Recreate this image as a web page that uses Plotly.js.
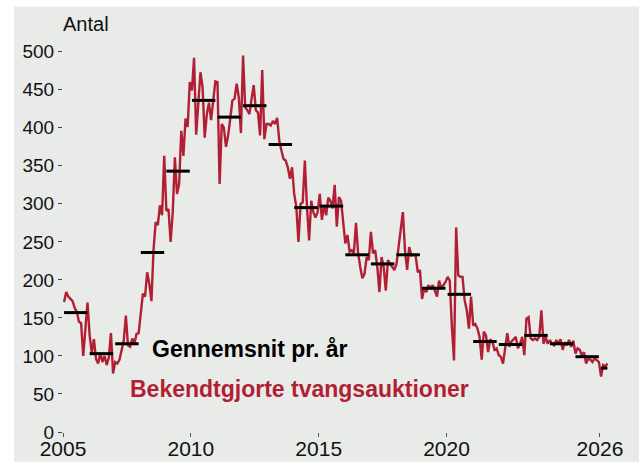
<!DOCTYPE html>
<html>
<head>
<meta charset="utf-8">
<script src="https://cdn.plot.ly/plotly-3.0.1.min.js"></script>
<style>
  html, body { margin: 0; padding: 0; background: #ffffff; }
  #chart { width: 639px; height: 462px; }
</style>
</head>
<body>
<div id="chart"></div>
<script>
// Monthly number of announced forced sales (Bekendtgjorte tvangsauktioner), Jan 2005 onwards
const startYear = 2005;
const tvangsauktioner = [
  171, 184, 178, 175, 172, 163, 158, 145, 143, 100, 130, 170,   // 2005
  127, 104, 122, 96, 90, 104, 92, 100, 88, 98, 130, 77,         // 2006
  92, 90, 95, 108, 120, 153, 114, 112, 123, 116, 129, 130,      // 2007
  160, 182, 178, 210, 195, 172, 240, 276, 272, 298, 285, 363,   // 2008
  291, 293, 250, 289, 361, 313, 326, 396, 363, 412, 401, 460,   // 2009
  449, 492, 391, 430, 473, 453, 387, 418, 433, 410, 433, 461,   // 2010
  460, 326, 405, 400, 375, 390, 412, 436, 438, 458, 440, 393,   // 2011
  495, 427, 423, 418, 438, 456, 423, 420, 390, 476, 385, 405,   // 2012
  405, 403, 409, 405, 413, 383, 370, 359, 357, 348, 333, 348,   // 2013
  313, 296, 250, 300, 302, 357, 296, 252, 304, 289, 282, 289,   // 2014
  313, 279, 298, 285, 308, 304, 294, 325, 270, 309, 304, 278,   // 2015
  248, 259, 237, 239, 235, 275, 235, 217, 202, 208, 230, 226,   // 2016
  263, 235, 239, 217, 184, 230, 217, 186, 226, 221, 217, 213,   // 2017
  221, 243, 261, 289, 239, 213, 243, 232, 233, 232, 210, 213,   // 2018
  175, 189, 184, 193, 189, 193, 186, 178, 199, 189, 193, 197,   // 2019
  204, 199, 138, 94, 269, 206, 204, 204, 173, 160, 136, 178,    // 2020
  140, 142, 136, 125, 95, 132, 127, 105, 122, 119, 108, 110,    // 2021
  101, 99, 90, 112, 130, 112, 119, 122, 125, 110, 116, 125,     // 2022
  101, 149, 151, 123, 121, 123, 121, 125, 160, 116, 125, 116,   // 2023
  121, 116, 114, 121, 116, 122, 108, 118, 114, 121, 112, 120,   // 2024
  103, 110, 108, 101, 105, 90, 97, 95, 92, 97, 94, 92,          // 2025
  73, 88, 86, 90                                                // 2026
];

// Yearly averages (Gennemsnit pr. år)
const aar = [2005, 2006, 2007, 2008, 2009, 2010, 2011, 2012, 2013, 2014, 2015,
             2016, 2017, 2018, 2019, 2020, 2021, 2022, 2023, 2024, 2025, 2026];
const gennemsnit = [157, 103, 116, 236, 343, 436, 414, 429, 378, 295, 297,
                    233, 221, 233, 189, 181, 119, 115, 127, 116, 99, 84];

const xTickVals = [2005, 2010, 2015, 2020, 2026];
const xTickText = ['2005', '2010', '2015', '2020', '2026'];
const yTickVals = [0, 50, 100, 150, 200, 250, 300, 350, 400, 450, 500];

const RED = '#b21f35';

// monthly x positions (mid-month, decimal years)
const xMonthly = tvangsauktioner.map((v, i) => startYear + (i + 0.5) / 12);

// average segments from first to last month of each year
const segX = [], segY = [];
aar.forEach((yr, k) => {
  const n = Math.min(12, tvangsauktioner.length - (yr - startYear) * 12);
  segX.push(yr + 0.5 / 12, yr + (n - 0.5) / 12, null);
  segY.push(gennemsnit[k], gennemsnit[k], null);
});

const traces = [
  { x: xMonthly, y: tvangsauktioner, type: 'scatter', mode: 'lines',
    line: { color: RED, width: 2.4 }, hoverinfo: 'skip', showlegend: false },
  { x: segX, y: segY, type: 'scatter', mode: 'lines',
    line: { color: '#000000', width: 3 }, connectgaps: false,
    hoverinfo: 'skip', showlegend: false }
];

const L = 63, T = 20, W = 556, H = 412;
const px = (x) => (x - L) / W;
const py = (y) => (T + H - y) / H;

const layout = {
  width: 639, height: 462,
  margin: { l: L, r: 639 - L - W, t: T, b: 462 - T - H, pad: 0 },
  paper_bgcolor: '#e8ebe8',
  plot_bgcolor: '#e8ebe8',
  font: { family: '"Liberation Sans", Arial, sans-serif', color: '#111111' },
  xaxis: {
    range: [2005, 2005 + W / 25.57],
    tickvals: xTickVals, ticktext: xTickText,
    ticks: 'outside', ticklen: 4, tickwidth: 1, tickcolor: '#555',
    ticklabelstandoff: -6,
    showgrid: false, zeroline: false, showline: false,
    tickfont: { size: 21, color: '#111' }
  },
  yaxis: {
    range: [0, H / 0.7606],
    tickvals: yTickVals,
    ticks: 'outside', ticklen: 4, tickwidth: 1, tickcolor: '#444',
    showgrid: false, zeroline: false, showline: false,
    tickfont: { size: 19, color: '#111' }
  },
  shapes: [
    { type: 'rect', xref: 'paper', yref: 'paper', layer: 'below',
      x0: px(0), x1: px(14), y0: py(462), y1: py(0),
      fillcolor: '#ffffff', line: { width: 0 } },
    { type: 'rect', xref: 'paper', yref: 'paper', layer: 'below',
      x0: px(0), x1: px(639), y0: py(6.5), y1: py(0),
      fillcolor: '#ffffff', line: { width: 0 } }
  ],
  annotations: [
    { text: 'Antal', xref: 'paper', yref: 'paper', x: px(61), y: py(24),
      xanchor: 'left', yanchor: 'middle', showarrow: false,
      font: { size: 20, color: '#111' } },
    { text: '<b>Gennemsnit pr. år</b>', xref: 'paper', yref: 'paper',
      x: px(249.5), y: py(348.5), xanchor: 'center', yanchor: 'middle',
      showarrow: false, font: { size: 23, color: '#000' } },
    { text: '<b>Bekendtgjorte tvangsauktioner</b>', xref: 'paper', yref: 'paper',
      x: px(299), y: py(389), xanchor: 'center', yanchor: 'middle',
      showarrow: false, font: { size: 23, color: RED } }
  ]
};

Plotly.newPlot('chart', traces, layout, { displayModeBar: false, staticPlot: true });
</script>
</body>
</html>
